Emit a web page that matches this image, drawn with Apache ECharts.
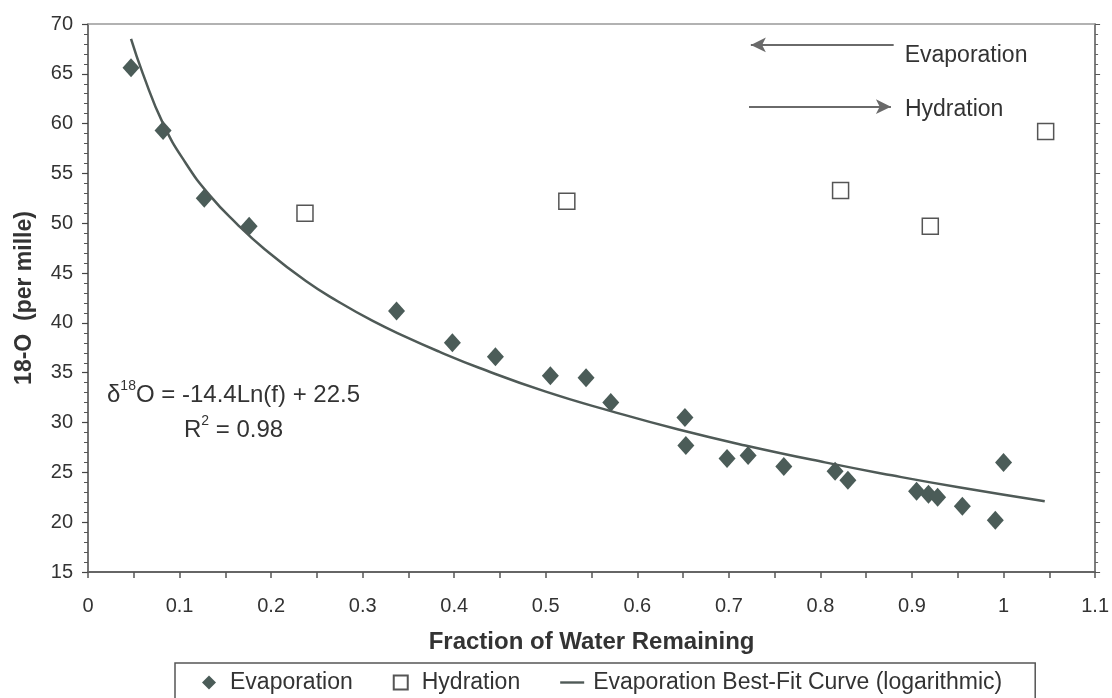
<!DOCTYPE html>
<html>
<head>
<meta charset="utf-8">
<script src="https://cdn.jsdelivr.net/npm/echarts@6/dist/echarts.min.js"></script>
<style>
  html, body { margin: 0; padding: 0; background: #ffffff; }
  #chart { width: 1112px; height: 698px; }
</style>
</head>
<body>
<div id="chart"></div>
<script>
// Fraction of water remaining (f) vs. delta 18-O (per mille)
const evaporation = [
  [0.047, 65.6], [0.082, 59.3], [0.127, 52.5], [0.176, 49.7], [0.337, 41.2],
  [0.398, 38.0], [0.445, 36.6], [0.505, 34.7], [0.544, 34.5], [0.571, 32.0],
  [0.652, 30.5], [0.653, 27.7], [0.698, 26.4], [0.721, 26.7], [0.760, 25.6],
  [0.816, 25.1], [0.830, 24.2], [0.905, 23.1], [0.918, 22.8], [0.928, 22.5],
  [0.955, 21.6], [0.991, 20.2], [1.000, 26.0]
];

const hydration = [
  [0.237, 51.0], [0.523, 52.2], [0.822, 53.3], [0.920, 49.7], [1.046, 59.2]
];

// Logarithmic best-fit curve, sampled along its length
const bestFitCurve = [
  [0.047, 68.5], [0.060, 65.0], [0.082, 60.0], [0.107, 56.0], [0.133, 52.8],
  [0.162, 50.0], [0.193, 47.4], [0.238, 44.2], [0.274, 42.1], [0.311, 40.2],
  [0.347, 38.6], [0.384, 37.1], [0.427, 35.5], [0.500, 33.1], [0.573, 31.1],
  [0.645, 29.3], [0.718, 27.7], [0.805, 26.0], [0.878, 24.7], [0.951, 23.5],
  [1.045, 22.1]
];

const seriesNames = ['Evaporation', 'Hydration', 'Evaporation Best-Fit Curve (logarithmic)'];
const xAxisName = 'Fraction of Water Remaining';
const yAxisName = '18-O  (per mille)';
const fitEquation = '-14.4Ln(f) + 22.5';
const fitR2 = '0.98';

const FONT = "'Liberation Sans', Arial, sans-serif";
const TEXT = '#333333';
const MARK = '#4b5c58';
const CURVE = '#4f5a57';

// Legend icons drawn as paths so they keep their proportions
const ICON_DIAMOND = 'path://M0,-1L1,0L0,1L-1,0Z';
const ICON_SQUARE = 'path://M0,0H1V1H0Z';
const ICON_LINE = 'path://M0,0H20V2H0Z';

const chart = echarts.init(document.getElementById('chart'), null, { renderer: 'canvas' });

const supRich = {
  m: { fontFamily: FONT, fontSize: 24, fill: TEXT, lineHeight: 28, verticalAlign: 'bottom' },
  s: { fontFamily: FONT, fontSize: 14, fill: TEXT, lineHeight: 28, verticalAlign: 'top' }
};

chart.setOption({
  backgroundColor: '#ffffff',
  animation: false,
  textStyle: { fontFamily: FONT, color: TEXT },
  grid: { left: 88, right: 14, top: 24, bottom: 126, containLabel: false },
  xAxis: [
    {
      type: 'value', min: 0, max: 1.1, interval: 0.1,
      name: xAxisName, nameLocation: 'middle', nameGap: 58,
      nameTextStyle: { fontFamily: FONT, fontSize: 24, fontWeight: 'bold', color: TEXT },
      axisLine: { show: true, onZero: false, lineStyle: { color: '#666', width: 2 } },
      axisTick: { show: true, inside: false, length: 6, lineStyle: { color: '#555', width: 1.5 } },
      minorTick: { show: true, splitNumber: 2, length: 6, lineStyle: { color: '#555', width: 1.5 } },
      axisLabel: { fontFamily: FONT, fontSize: 20, color: TEXT, margin: 24 },
      splitLine: { show: false }
    },
    {
      type: 'value', min: 0, max: 1.1, position: 'top',
      axisLine: { show: true, onZero: false, lineStyle: { color: '#999', width: 1.5 } },
      axisTick: { show: false }, axisLabel: { show: false }, splitLine: { show: false }
    }
  ],
  yAxis: [
    {
      type: 'value', min: 15, max: 70, interval: 5,
      name: yAxisName, nameLocation: 'middle', nameGap: 52, nameRotate: 90,
      nameTextStyle: { fontFamily: FONT, fontSize: 23, fontWeight: 'bold', color: TEXT },
      axisLine: { show: true, onZero: false, lineStyle: { color: '#444', width: 1.5 } },
      axisTick: { show: true, length: 6, lineStyle: { color: '#444', width: 1.2 } },
      minorTick: { show: true, splitNumber: 5, length: 4, lineStyle: { color: '#555', width: 1 } },
      axisLabel: { fontFamily: FONT, fontSize: 20, color: TEXT, margin: 15 },
      splitLine: { show: false }
    },
    {
      type: 'value', min: 15, max: 70, interval: 5, position: 'right',
      axisLine: { show: true, onZero: false, lineStyle: { color: '#555', width: 1.5 } },
      axisTick: { show: true, length: 5, lineStyle: { color: '#555', width: 1 } },
      minorTick: { show: true, splitNumber: 5, length: 3, lineStyle: { color: '#666', width: 1 } },
      axisLabel: { show: false }, splitLine: { show: false }
    }
  ],
  legend: {
    left: 175, top: 663,
    orient: 'horizontal',
    padding: [8, 33, 14, 27],
    itemGap: 40, itemWidth: 24, itemHeight: 14,
    symbolKeepAspect: true,
    borderColor: '#555', borderWidth: 1.5, borderRadius: 0,
    backgroundColor: '#ffffff',
    textStyle: { fontFamily: FONT, fontSize: 23, color: TEXT, padding: [0, 0, 0, 4] },
    data: [
      { name: seriesNames[0], icon: ICON_DIAMOND },
      { name: seriesNames[1], icon: ICON_SQUARE },
      { name: seriesNames[2], icon: ICON_LINE }
    ]
  },
  series: [
    {
      name: seriesNames[0], type: 'scatter',
      symbol: 'diamond', symbolSize: [17, 19],
      itemStyle: { color: MARK, opacity: 1 },
      data: evaporation, z: 3
    },
    {
      name: seriesNames[1], type: 'scatter',
      symbol: 'rect', symbolSize: 16,
      itemStyle: { color: '#ffffff', borderColor: '#555', borderWidth: 1.5, opacity: 1 },
      data: hydration, z: 3,
      markLine: {
        silent: true,
        symbol: ['none', 'arrow'],
        symbolSize: [11, 15],
        lineStyle: { color: '#6a6a6a', width: 2, type: 'solid' },
        label: { show: true, fontFamily: FONT, fontSize: 23, color: TEXT, distance: 11 },
        data: [
          [
            { coord: [0.880, 67.9], label: { formatter: 'Evaporation', position: 'start', offset: [0, 11] } },
            { coord: [0.724, 67.9] }
          ],
          [
            { coord: [0.722, 61.7], label: { formatter: 'Hydration', position: 'end', offset: [0, 3], distance: 14 } },
            { coord: [0.877, 61.7] }
          ]
        ]
      }
    },
    {
      name: seriesNames[2], type: 'line',
      smooth: true, symbol: 'none', showSymbol: false,
      lineStyle: { color: CURVE, width: 2.5 },
      itemStyle: { color: CURVE },
      data: bestFitCurve, z: 4
    }
  ],
  graphic: [
    {
      type: 'text', left: 107, top: 379, z: 10,
      style: { text: '{m|δ}{s|18}{m|O = ' + fitEquation + '}', rich: supRich }
    },
    {
      type: 'text', left: 184, top: 414, z: 10,
      style: { text: '{m|R}{s|2}{m| = ' + fitR2 + '}', rich: supRich }
    }
  ]
});
</script>
</body>
</html>
